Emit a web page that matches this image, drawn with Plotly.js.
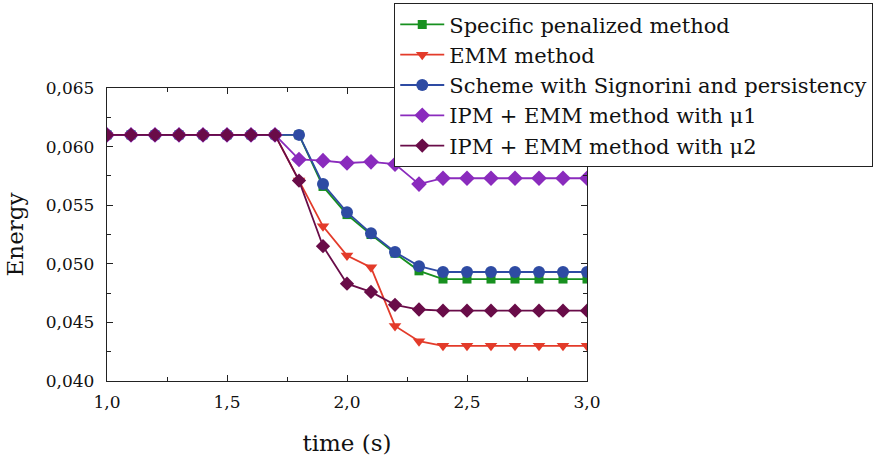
<!DOCTYPE html>
<html>
<head>
<meta charset="utf-8">
<script src="https://cdn.plot.ly/plotly-3.0.1.min.js"></script>
<style>body{margin:0;padding:0;background:#fff}#chart{width:890px;height:457px}</style>
</head>
<body>
<div id="chart"></div>
<script>
const time = [1.0,1.1,1.2,1.3,1.4,1.5,1.6,1.7,1.8,1.9,2.0,2.1,2.2,2.3,2.4,2.5,2.6,2.7,2.8,2.9,3.0];
const seriesNames = ["Specific penalized method","EMM method","Scheme with Signorini and persistency","IPM + EMM method with \u03bc1","IPM + EMM method with \u03bc2"];
const specificPenalized = [0.061,0.061,0.061,0.061,0.061,0.061,0.061,0.061,0.061,0.0566,0.0542,0.0525,0.0509,0.0494,0.0487,0.0487,0.0487,0.0487,0.0487,0.0487,0.0487];
const emmMethod = [0.061,0.061,0.061,0.061,0.061,0.061,0.061,0.061,0.0571,0.0532,0.0507,0.0497,0.0447,0.0434,0.0430,0.0430,0.0430,0.0430,0.0430,0.0430,0.0430];
const signorini = [0.061,0.061,0.061,0.061,0.061,0.061,0.061,0.061,0.061,0.0568,0.0544,0.0526,0.0510,0.0498,0.0493,0.0493,0.0493,0.0493,0.0493,0.0493,0.0493];
const ipmMu1 = [0.061,0.061,0.061,0.061,0.061,0.061,0.061,0.061,0.0589,0.0588,0.0586,0.0587,0.0585,0.0568,0.0573,0.0573,0.0573,0.0573,0.0573,0.0573,0.0573];
const ipmMu2 = [0.061,0.061,0.061,0.061,0.061,0.061,0.061,0.061,0.0571,0.0515,0.0483,0.0476,0.0465,0.0461,0.0460,0.0460,0.0460,0.0460,0.0460,0.0460,0.0460];

const colors = ['#17901f','#e33b2a','#2e4ba3','#8a2bbd','#690c48'];
const symbols = ['square','triangle-down','circle','diamond','diamond'];
const sizes = [9,11,12,12,11];
const ys = [specificPenalized, emmMethod, signorini, ipmMu1, ipmMu2];

const traces = ys.map((y,i)=>({
  x: time, y: y, name: seriesNames[i], type:'scatter', mode:'lines+markers',
  line:{color:colors[i], width:1.8},
  marker:{color:colors[i], symbol:symbols[i], size:sizes[i], line:{width:0}}
}));

const font = "DejaVu Serif";
const layout = {
  width:890, height:457,
  margin:{l:107, r:303, t:88, b:76, autoexpand:false},
  paper_bgcolor:'#fff', plot_bgcolor:'#fff',
  separators:', ',
  font:{family:font, color:'#111', size:18},
  showlegend:true,
  legend:{x:0.598, y:1.29, xanchor:'left', yanchor:'top', bgcolor:'#fff', bordercolor:'#222', borderwidth:1.2,
    font:{family:font, size:21, color:'#111'}, tracegroupgap:0, itemwidth:44},
  xaxis:{range:[1.0,3.0], dtick:0.5, tick0:1.0, tickformat:'.1f', ticks:'inside', ticklen:6, tickcolor:'#222',
    showline:true, linecolor:'#222', linewidth:1.2, mirror:'ticks', showgrid:false, zeroline:false,
    ticklabelstandoff:5,
    minor:{dtick:0.25, ticks:'inside', ticklen:4, tickcolor:'#222', showgrid:false},
    tickfont:{family:font, size:17}, title:{text:'time (s)', font:{family:font, size:23}, standoff:24}},
  yaxis:{range:[0.040,0.065], dtick:0.005, tick0:0.040, tickformat:'.3f', ticks:'inside', ticklen:6, tickcolor:'#222',
    showline:true, linecolor:'#222', linewidth:1.2, mirror:'ticks', showgrid:false, zeroline:false,
    ticklabelstandoff:8,
    minor:{dtick:0.0025, ticks:'inside', ticklen:4, tickcolor:'#222', showgrid:false},
    tickfont:{family:font, size:17}, title:{text:'Energy', font:{family:font, size:23}, standoff:15}}
};
Plotly.newPlot('chart', traces, layout, {displayModeBar:false, staticPlot:true});
</script>
</body>
</html>
